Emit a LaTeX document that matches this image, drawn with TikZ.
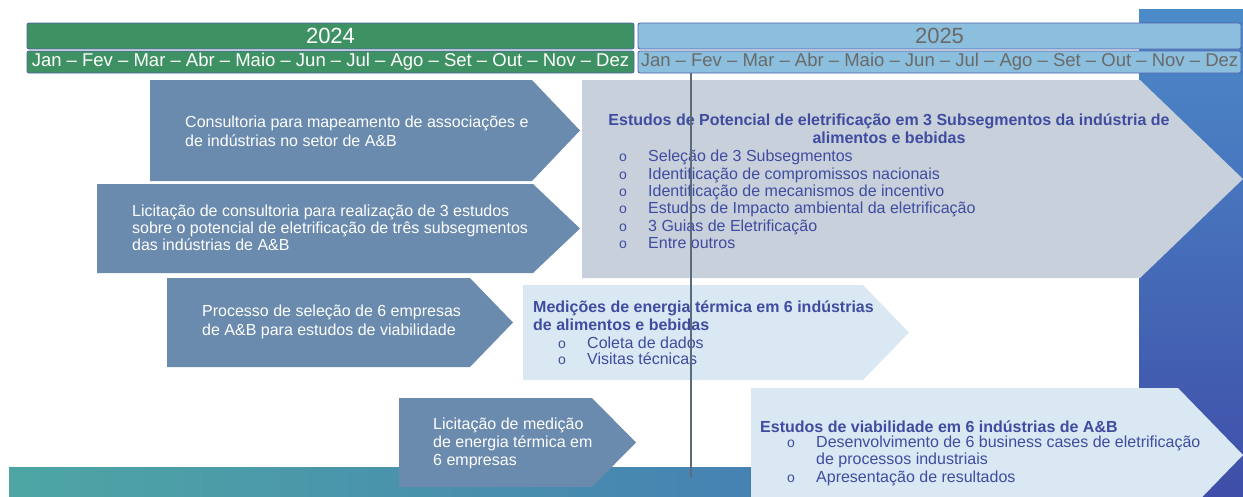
\documentclass[tikz,border=0pt]{standalone}
\usepackage{fontspec}
\setmainfont{Liberation Sans}
\definecolor{darkarrow}{HTML}{6A8BAD}
\definecolor{greybox}{HTML}{C8D0DB}
\definecolor{lightbox}{HTML}{DAE8F3}
\definecolor{navy}{HTML}{3F4CA0}
\definecolor{green24}{HTML}{3E9163}
\definecolor{blue25}{HTML}{8CBFDD}
\definecolor{hdrline}{HTML}{4F5FAA}
\definecolor{gray25}{HTML}{6A6A6A}
\definecolor{tealc}{HTML}{4EA6A4}
\definecolor{midc}{HTML}{4592C8}
\definecolor{bandr}{HTML}{416FBA}
\definecolor{bandtop}{HTML}{4C8BC9}
\definecolor{bandbot}{HTML}{3F4EA8}
\definecolor{linec}{HTML}{5B6B7B}
\newcommand\penta[6]{\fill[#6] (#1,#2) -- (#3,#2) -- (#5,{(#2+#4)/2}) -- (#3,#4) -- (#1,#4) -- cycle;}
\newcommand\bul{\makebox[29pt][l]{\fontsize{14pt}{14pt}\selectfont o}}
\tikzset{
  darkfill/.style={fill=darkarrow},
  greyfill/.style={fill=greybox},
  lightfill/.style={fill=lightbox},
  whitetext/.style={text=white, inner sep=0pt, align=left},
  navytext/.style={text=navy, inner sep=0pt, align=left},
  hdrbox/.style={draw=hdrline, line width=0.8pt, inner sep=0pt, rounded corners=2pt},
  timeline/.style={draw=linec, line width=1.6pt}
}
\begin{document}
\begin{tikzpicture}[x=1pt,y=-1pt]
\useasboundingbox (0,0) rectangle (1243,496);
\clip (0,0) rectangle (1243,496);
% background bands
\shade[left color=tealc, middle color=midc, right color=bandr] (9,467) rectangle (1139,496);
\shade[top color=bandtop, bottom color=bandbot] (1139,9) rectangle (1243,496);
% headers
\node[hdrbox, fill=green24, minimum width=607pt, minimum height=26pt, text=white, font=\fontsize{22pt}{22pt}\selectfont] (y24) at (330.5,36) {2024};
\node[hdrbox, fill=green24, minimum width=607pt, minimum height=22pt, text=white, font=\fontsize{18.5pt}{18.5pt}\selectfont] (m24) at (330.5,62) {Jan – Fev – Mar – Abr – Maio – Jun – Jul – Ago – Set – Out – Nov – Dez};
\node[hdrbox, fill=blue25, minimum width=603pt, minimum height=26pt, text=gray25, font=\fontsize{22pt}{22pt}\selectfont] (y25) at (939.5,36) {2025};
\node[hdrbox, fill=blue25, minimum width=603pt, minimum height=22pt, text=gray25, font=\fontsize{18.5pt}{18.5pt}\selectfont] (m25) at (939.5,62) {Jan – Fev – Mar – Abr – Maio – Jun – Jul – Ago – Set – Out – Nov – Dez};
% arrow shapes
\penta{150}{80}{532}{181}{580}{darkfill}
\penta{97}{184}{533}{273}{580}{darkfill}
\penta{582}{80}{1140}{278}{1243}{greyfill}
\penta{167}{278}{470}{367}{513}{darkfill}
\penta{523}{285}{863}{380}{909}{lightfill}
\penta{399}{398}{592}{487}{636}{darkfill}
\penta{751}{388}{1178}{522}{1243}{lightfill}
% texts
\node[whitetext, anchor=west, font=\fontsize{16pt}{19pt}\selectfont] (t1) at (185,131.5) {Consultoria para mapeamento de associações e\\de indústrias no setor de A\&B};
\node[whitetext, anchor=west, font=\fontsize{16pt}{17pt}\selectfont] (t2) at (132,228) {Licitação de consultoria para realização de 3 estudos\\sobre o potencial de eletrificação de três subsegmentos\\das indústrias de A\&B};
\node[navytext, align=center, font=\bfseries\fontsize{16pt}{18pt}\selectfont] (g1) at (889,129) {Estudos de Potencial de eletrificação em 3 Subsegmentos da indústria de\\alimentos e bebidas};
\node[navytext, anchor=west, font=\fontsize{16pt}{17.4pt}\selectfont] (g2) at (619,199.5) {\bul Seleção de 3 Subsegmentos\\\bul Identificação de compromissos nacionais\\\bul Identificação de mecanismos de incentivo\\\bul Estudos de Impacto ambiental da eletrificação\\\bul 3 Guias de Eletrificação\\\bul Entre outros};
\node[whitetext, anchor=west, font=\fontsize{16pt}{19pt}\selectfont] (t3) at (202,321.5) {Processo de seleção de 6 empresas\\de A\&B para estudos de viabilidade};
\node[navytext, anchor=west, font=\bfseries\fontsize{16pt}{18pt}\selectfont] (m1) at (533,316) {Medições de energia térmica em 6 indústrias\\de alimentos e bebidas};
\node[navytext, anchor=west, font=\fontsize{16pt}{16.5pt}\selectfont] (m2) at (558,351) {\bul Coleta de dados\\\bul Visitas técnicas};
\node[whitetext, anchor=west, font=\fontsize{16pt}{18pt}\selectfont] (t4) at (433,443) {Licitação de medição\\de energia térmica em\\6 empresas};
\node[navytext, anchor=west, font=\bfseries\fontsize{16pt}{18pt}\selectfont] (v1) at (760,427) {Estudos de viabilidade em 6 indústrias de A\&B};
\node[navytext, anchor=west, font=\fontsize{16pt}{17.5pt}\selectfont] (v2) at (787,460.5) {\bul Desenvolvimento de 6 business cases de eletrificação\\\makebox[29pt]{}de processos industriais\\\bul Apresentação de resultados};
% timeline marker
\coordinate (lt) at (691,73);
\coordinate (lb) at (691,477);
\draw[timeline] (lt) -- (lb);
\end{tikzpicture}
\end{document}
